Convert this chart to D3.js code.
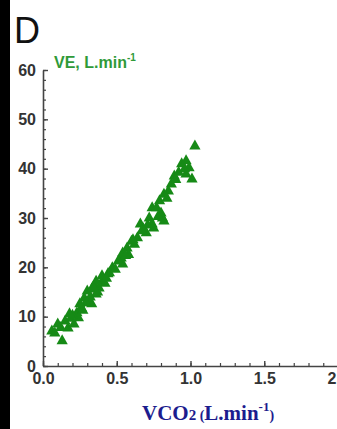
<!DOCTYPE html>
<html>
<head>
<meta charset="utf-8">
<script src="https://cdn.jsdelivr.net/npm/d3@7"></script>
<style>
  html, body { margin: 0; padding: 0; background: #fff; }
  svg { display: block; }
</style>
</head>
<body>
<script>
// ---- data ----
const vco2 = [0.06,0.08,0.13,0.10,0.15,0.17,0.19,0.21,0.23,0.26,0.28,0.33,0.30,0.35,0.40,0.44,0.24,0.31,0.27,0.36,0.38,0.42,0.33,0.29,
              0.45,0.47,0.54,0.53,0.54,0.57,0.62,0.64,0.70,0.66,0.74,0.72,0.74,0.40,0.36,0.49,0.58,0.60,0.68,
              0.77,0.79,0.80,0.81,0.82,0.85,0.87,0.89,0.94,0.97,0.99,0.97,1.01,1.03,0.82,0.75,0.78,0.92,0.96,
              0.12,0.20,0.25,0.32,0.37,0.43,0.51,0.56,0.61,0.67,0.71,0.84,0.90,0.18,0.34];
const ve   = [7.3,6.9,5.3,8.7,9.3,7.9,9.9,8.7,11.0,12.0,14.0,12.8,15.4,16.4,17.4,18.9,10.0,13.5,11.5,14.8,16.0,17.0,15.8,13.0,
              19.1,20.1,20.9,22.1,23.1,24.1,24.9,26.2,27.2,29.0,29.0,30.2,32.3,18.5,17.4,19.8,22.8,25.5,28.0,
              32.3,33.7,31.2,30.2,35.0,35.7,37.1,38.7,41.2,41.8,40.4,39.1,38.1,44.8,29.6,28.2,30.5,39.5,40.2,
              8.0,10.5,12.8,14.2,15.2,18.0,21.5,22.6,25.8,27.6,28.8,34.2,38.0,10.8,16.2];
const xTicks = [0, 0.5, 1.0, 1.5, 2.0];
const xTickLabels = ["0.0", "0.5", "1.0", "1.5", "2.0"];
const yTicks = [0, 10, 20, 30, 40, 50, 60];
const yTickLabels = ["0", "10", "20", "30", "40", "50", "60"];
const panelLabel = "D";

const W = 337, H = 429;
const svg = d3.select("body").append("svg").attr("width", W).attr("height", H);
svg.append("rect").attr("width", W).attr("height", H).attr("fill", "#fff");
svg.append("rect").attr("x", 0).attr("y", 0).attr("width", 10).attr("height", H).attr("fill", "#000");

const x = d3.scaleLinear().domain([0, 2.5]).range([43, 43 + 2.5 * 147.5]);
const y = d3.scaleLinear().domain([0, 60]).range([366, 70]);

const axisColor = "#444";
const labelFont = "'Liberation Sans', Arial, sans-serif";

// minor ticks
const xMinor = d3.range(0, 26).map(i => i / 10);
const yMinor = d3.range(0, 31).map(i => i * 2);
svg.append("g").attr("transform", `translate(0,${y(0)})`)
  .call(d3.axisBottom(x).tickValues(xMinor).tickSize(-3).tickSizeOuter(0).tickFormat(""))
  .call(g => g.selectAll("line").attr("stroke", axisColor).attr("stroke-width", 1.2))
  .call(g => g.select(".domain").remove());
svg.append("g").attr("transform", `translate(${x(0)},0)`)
  .call(d3.axisLeft(y).tickValues(yMinor).tickSize(-3).tickSizeOuter(0).tickFormat(""))
  .call(g => g.selectAll("line").attr("stroke", axisColor).attr("stroke-width", 1.2))
  .call(g => g.select(".domain").remove());

// major axes
const xAxis = svg.append("g").attr("transform", `translate(0,${y(0)})`)
  .call(d3.axisBottom(x).tickValues(xTicks).tickSize(-5).tickSizeOuter(0).tickPadding(7)
    .tickFormat((d, i) => xTickLabels[i]));
xAxis.select(".domain").attr("stroke", axisColor).attr("stroke-width", 1.6);
xAxis.selectAll("line").attr("stroke", axisColor).attr("stroke-width", 1.4);
xAxis.selectAll("text").attr("font-family", labelFont).attr("font-weight", "bold")
  .attr("font-size", 16).attr("fill", "#333").attr("dy", "0.71em");

const yAxis = svg.append("g").attr("transform", `translate(${x(0)},0)`)
  .call(d3.axisLeft(y).tickValues(yTicks).tickSize(-5).tickSizeOuter(0).tickPadding(7)
    .tickFormat((d, i) => yTickLabels[i]));
yAxis.select(".domain").attr("stroke", axisColor).attr("stroke-width", 1.6);
yAxis.selectAll("line").attr("stroke", axisColor).attr("stroke-width", 1.4);
yAxis.selectAll("text").attr("font-family", labelFont).attr("font-weight", "bold")
  .attr("font-size", 16).attr("fill", "#333");

// points
const tri = "M0,-5.5L5.6,4.5L-5.6,4.5Z";
svg.append("g").selectAll("path").data(vco2.map((v, i) => [v, ve[i]])).join("path")
  .attr("d", tri)
  .attr("transform", d => `translate(${x(d[0])},${y(d[1])})`)
  .attr("fill", "#168a16");

// panel label
svg.append("text").attr("x", 14).attr("y", 43).text(panelLabel)
  .attr("font-family", labelFont).attr("font-size", 36).attr("fill", "#111");

// y axis title
const yt = svg.append("text").attr("x", 54).attr("y", 68)
  .attr("font-family", labelFont).attr("font-weight", "bold").attr("font-size", 16).attr("fill", "#2f9a38");
yt.append("tspan").text("VE, L.min");
yt.append("tspan").attr("font-size", 10).attr("dy", -7).text("-1");

// x axis title
const xt = svg.append("text").attr("x", 142).attr("y", 420)
  .attr("font-family", "'Liberation Serif', 'Times New Roman', serif").attr("font-weight", "bold")
  .attr("font-size", 21).attr("fill", "#1c1c8e");
xt.append("tspan").text("VCO");
xt.append("tspan").attr("font-size", 15).text("2");
xt.append("tspan").attr("font-size", 14).text(" (");
xt.append("tspan").text("L.min");
xt.append("tspan").attr("font-size", 13).attr("dy", -9).text("-1");
xt.append("tspan").attr("font-size", 14).attr("dy", 9).text(")");
</script>
</body>
</html>
